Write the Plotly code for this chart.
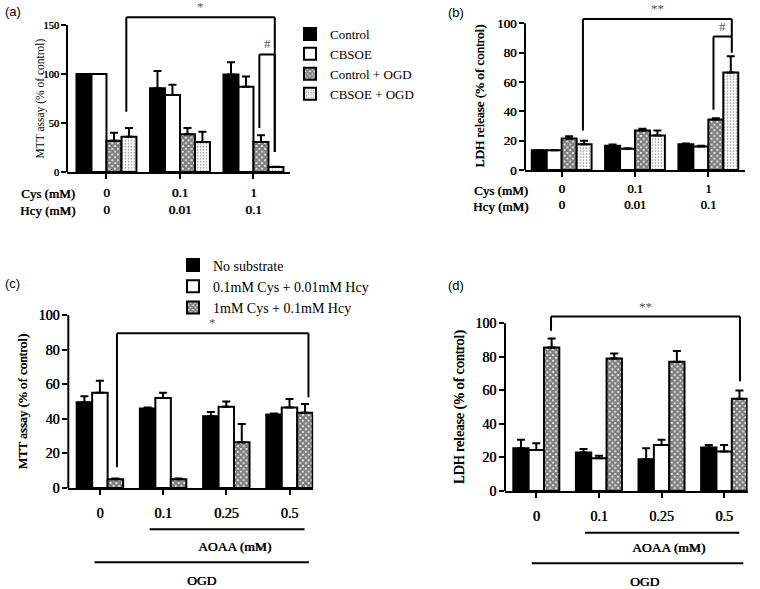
import plotly.graph_objects as go

W, H = 760, 589
SERIF = "Liberation Serif"
SANS = "Liberation Sans"
BOLD = "0.6px 0px 0px black"   # thickens the serif glyphs (bold face)

# ---------------- data ----------------
# Panel (a): MTT assay (% of control)
A_CATS = [0, 1, 2]
A_CYS = ["0", "0.1", "1"]
A_HCY = ["0", "0.01", "0.1"]
A_SERIES = ["Control", "CBSOE", "Control + OGD", "CBSOE + OGD"]
A_CONTROL = [100, 85.5, 99.5]
A_CONTROL_ERR = [0, 17.5, 12.5]
A_CBSOE = [100, 78.5, 87]
A_CBSOE_ERR = [0, 10.5, 10.5]
A_CONTROL_OGD = [32, 38.5, 30.5]
A_CONTROL_OGD_ERR = [8, 6.5, 7]
A_CBSOE_OGD = [36, 30.5, 5]
A_CBSOE_OGD_ERR = [9, 10.5, 0.3]
A_YTICKS = [0, 50, 100, 150]
# brackets: x_left, x_right, y_top, y_left_end, y_right_end, label
A_BRACKETS = [(0.27, 2.29, 158, 61.5, 20.5, "*"), (2.08, 2.29, 120, 45, 20.5, "#")]

# Panel (b): LDH release (% of control)
B_CONTROL = [13.5, 16.5, 17.5]
B_CONTROL_ERR = [0, 0.8, 0.6]
B_CBSOE = [13.5, 14.5, 16]
B_CBSOE_ERR = [0, 0.3, 0.6]
B_CONTROL_OGD = [21.5, 27, 34.5]
B_CONTROL_OGD_ERR = [1.5, 1.2, 0.8]
B_CBSOE_OGD = [17.5, 23.5, 66.5]
B_CBSOE_OGD_ERR = [2.5, 3.5, 11]
B_YTICKS = [0, 20, 40, 60, 80, 100]
B_BRACKETS = [(0.29, 2.32, 103, 27, 91, "**"), (2.07, 2.32, 91, 41, 80, "#")]

# Panel (c): MTT assay under OGD with AOAA
C_CATS = [0, 1, 2, 3]
C_AOAA = ["0", "0.1", "0.25", "0.5"]
C_SERIES = ["No substrate", "0.1mM Cys + 0.01mM Hcy", "1mM Cys + 0.1mM Hcy"]
C_NOSUB = [49.5, 46, 41.5, 42.5]
C_NOSUB_ERR = [3.5, 0.5, 2.5, 0.5]
C_LOW = [55, 52, 47, 46.5]
C_LOW_ERR = [7, 3, 3, 5]
C_HIGH = [5, 5, 26.5, 43.5]
C_HIGH_ERR = [0.5, 0.5, 10.5, 5]
C_YTICKS = [0, 20, 40, 60, 80, 100]
C_BRACKETS = [(0.27, 3.30, 89.5, 12, 52.5, "*")]

# Panel (d): LDH release under OGD with AOAA
D_NOSUB = [25.5, 23, 19, 26]
D_NOSUB_ERR = [5, 2, 6.5, 1.5]
D_LOW = [24.5, 19.5, 27.5, 23.5]
D_LOW_ERR = [4, 1.5, 3, 4]
D_HIGH = [85.5, 79, 77, 55]
D_HIGH_ERR = [5.5, 3, 6.5, 5]
D_YTICKS = [0, 20, 40, 60, 80, 100]
D_BRACKETS = [(0.235, 3.253, 104, 95.5, 65.5, "**")]

# ---------------- styles ----------------
LINE = dict(color="black", width=2)
SOLID = dict(color="black", line=LINE)
WHITE = dict(color="white", line=LINE)
CHECK = dict(color="white", line=LINE,
             pattern=dict(shape="x", fgcolor="black", bgcolor="white", size=4, solidity=0.8))
DOTS = dict(color="white", line=LINE,
            pattern=dict(shape=".", fgcolor="#222222", bgcolor="white", size=3, solidity=0.25))

# panel geometry in pixels: x-left, x-right, y pixel of value 0, pixels per unit, top of range
GEOM = {
    1: dict(x0=67, x1=290, zero=172, ppu=0.98, top=165, xr=[-0.537, 2.497], bw=0.204),
    2: dict(x0=525, x1=745, zero=170, ppu=1.467, top=108, xr=[-0.5, 2.5], bw=0.204),
    3: dict(x0=68.3, x1=313.2, zero=488, ppu=1.73, top=101, xr=[-0.5, 3.375], bw=0.245),
    4: dict(x0=505, x1=747.6, zero=491, ppu=1.677, top=108, xr=[-0.5, 3.375], bw=0.245),
}

fig = go.Figure()


def sfx(n):
    return "" if n == 1 else str(n)


def add_bars(n, cats, names, vals, errs, styles, legend, showlegend):
    bw = GEOM[n]["bw"]
    m = len(names)
    for k in range(m):
        fig.add_trace(go.Bar(
            x=cats, y=vals[k], name=names[k], width=bw, offset=(k - m / 2) * bw,
            xaxis="x" + sfx(n), yaxis="y" + sfx(n), marker=styles[k],
            error_y=dict(type="data", symmetric=False, array=errs[k], arrayminus=[0] * len(cats),
                         color="black", thickness=2, width=4),
            showlegend=showlegend, legend=legend, hoverinfo="skip"))


add_bars(1, A_CATS, A_SERIES, [A_CONTROL, A_CBSOE, A_CONTROL_OGD, A_CBSOE_OGD],
         [A_CONTROL_ERR, A_CBSOE_ERR, A_CONTROL_OGD_ERR, A_CBSOE_OGD_ERR],
         [SOLID, WHITE, CHECK, DOTS], "legend", True)
add_bars(2, A_CATS, A_SERIES, [B_CONTROL, B_CBSOE, B_CONTROL_OGD, B_CBSOE_OGD],
         [B_CONTROL_ERR, B_CBSOE_ERR, B_CONTROL_OGD_ERR, B_CBSOE_OGD_ERR],
         [SOLID, WHITE, CHECK, DOTS], "legend", False)
add_bars(3, C_CATS, C_SERIES, [C_NOSUB, C_LOW, C_HIGH], [C_NOSUB_ERR, C_LOW_ERR, C_HIGH_ERR],
         [SOLID, WHITE, CHECK], "legend2", True)
add_bars(4, C_CATS, C_SERIES, [D_NOSUB, D_LOW, D_HIGH], [D_NOSUB_ERR, D_LOW_ERR, D_HIGH_ERR],
         [SOLID, WHITE, CHECK], "legend2", False)


def py(p):
    return 1 - p / H


def bfont(size):
    return dict(family=SERIF, size=size, color="black", shadow=BOLD)


layout = dict(width=W, height=H, margin=dict(l=0, r=0, t=0, b=0, autoexpand=False),
              paper_bgcolor="white", plot_bgcolor="white", barmode="overlay",
              showlegend=True)

XTICKTEXT = {
    1: [c + "<br>" + h for c, h in zip(A_CYS, A_HCY)],
    2: [c + "<br>" + h for c, h in zip(A_CYS, A_HCY)],
    3: C_AOAA,
    4: C_AOAA,
}
XTICKVALS = {1: A_CATS, 2: A_CATS, 3: C_CATS, 4: C_CATS}
YTICKS = {1: A_YTICKS, 2: B_YTICKS, 3: C_YTICKS, 4: D_YTICKS}
YTICKSIZE = {1: 10.5, 2: 13, 3: 14, 4: 14}
XTICKSIZE = {1: 13, 2: 12.5, 3: 14, 4: 14}
XSTAND = {1: 2, 2: 1, 3: 6, 4: 6}

shapes = []
annotations = []
for n, g in GEOM.items():
    s = sfx(n)
    top_px = g["zero"] - g["top"] * g["ppu"]
    layout["xaxis" + s] = dict(
        domain=[g["x0"] / W, g["x1"] / W], range=g["xr"], anchor="y" + s,
        showline=True, linecolor="black", linewidth=2, ticks="outside", ticklen=5,
        tickwidth=2, tickcolor="black", tickvals=XTICKVALS[n], ticktext=XTICKTEXT[n],
        tickfont=bfont(XTICKSIZE[n]), automargin=False,
        ticklabelstandoff=XSTAND[n], showgrid=False, zeroline=False)
    layout["yaxis" + s] = dict(
        domain=[py(g["zero"]), py(top_px)], range=[0, g["top"]], anchor="x" + s,
        showline=False, ticks="outside", ticklen=5, tickwidth=2, tickcolor="black",
        tickvals=YTICKS[n], tickfont=bfont(YTICKSIZE[n]), automargin=False,
        showgrid=False, zeroline=False)
    # y axis line from 0 to top tick
    shapes.append(dict(type="line", xref="x" + s + " domain", yref="y" + s, x0=0, x1=0,
                       y0=0, y1=YTICKS[n][-1], line=dict(color="black", width=2)))

BRACKETS = {1: A_BRACKETS, 2: B_BRACKETS, 3: C_BRACKETS, 4: D_BRACKETS}
for n, blist in BRACKETS.items():
    s = sfx(n)
    for (xl, xr, yt, yl, yr, lab) in blist:
        for (xa, ya, xb, yb) in [(xl, yl, xl, yt), (xl, yt, xr, yt), (xr, yt, xr, yr)]:
            shapes.append(dict(type="line", xref="x" + s, yref="y" + s, x0=xa, y0=ya,
                               x1=xb, y1=yb, line=dict(color="black", width=2)))
        annotations.append(dict(text=lab, xref="x" + s, yref="y" + s, x=(xl + xr) / 2, y=yt,
                                xanchor="center", yanchor="bottom", yshift=1, showarrow=False,
                                font=dict(family=SERIF, size=13, color="#555555")))

# group bars for AOAA and OGD (panels c, d)
UNDER = {
    3: [(0.786, 3.239, 529.3, "AOAA (mM)", 2.13, 546.7), (-0.084, 3.307, 562.3, "OGD", 1.61, 580)],
    4: [(0.778, 3.243, 532.7, "AOAA (mM)", 2.11, 547.7), (-0.073, 3.307, 563.3, "OGD", 1.73, 581)],
}
for n, items in UNDER.items():
    s = sfx(n)
    for (xa, xb, ypx, lab, xt, ytp) in items:
        shapes.append(dict(type="line", xref="x" + s, yref="paper", x0=xa, x1=xb,
                           y0=py(ypx), y1=py(ypx), line=dict(color="black", width=2)))
        annotations.append(dict(text=lab, xref="x" + s, yref="paper", x=xt, y=py(ytp),
                                xanchor="center", yanchor="middle", showarrow=False,
                                font=bfont(13.5)))

# row labels for panels a, b
for (xr_px, y1, y2, size) in [(77, 193, 211, 13), (530, 190.7, 206.7, 13)]:
    for txt, ypx in [("Cys (mM)", y1), ("Hcy (mM)", y2)]:
        annotations.append(dict(text=txt, xref="paper", yref="paper", x=xr_px / W, y=py(ypx),
                                xanchor="right", yanchor="middle", showarrow=False,
                                font=bfont(size)))

# y-axis titles
YTITLES = [
    (1, "MTT assay (% of control)", 40, 11.5, False),
    (2, "LDH release (% of control)", 480, 13, True),
    (3, "MTT assay (% of control)", 22, 13, True),
    (4, "LDH release (% of control)", 460, 14, True),
]
for n, txt, xpx, size, bold in YTITLES:
    s = sfx(n)
    f = bfont(size) if bold else dict(family=SERIF, size=size, color="black")
    annotations.append(dict(text=txt, xref="paper", yref="y" + s, x=xpx / W,
                            y=YTICKS[n][-1] / 2, textangle=-90, xanchor="center",
                            yanchor="middle", showarrow=False, font=f))

# panel letters
for txt, xpx, ypx in [("(a)", 3, 12), ("(b)", 446, 13), ("(c)", 3, 283), ("(d)", 446, 285)]:
    annotations.append(dict(text=txt, xref="paper", yref="paper", x=xpx / W, y=py(ypx),
                            xanchor="left", yanchor="middle", showarrow=False,
                            font=dict(family=SANS, size=13, color="black")))

layout["shapes"] = shapes
layout["annotations"] = annotations
layout["legend"] = dict(x=290 / W, y=py(19), xanchor="left", yanchor="top",
                        font=dict(family=SERIF, size=13, color="black"),
                        bgcolor="rgba(0,0,0,0)", itemwidth=30, tracegroupgap=0,
                        traceorder="normal")
layout["legend2"] = dict(x=173 / W, y=py(249.5), xanchor="left", yanchor="top",
                         font=dict(family=SERIF, size=14, color="black"),
                         bgcolor="rgba(0,0,0,0)", itemwidth=30, tracegroupgap=0,
                         traceorder="normal")

fig.update_layout(**layout)
# place the figure at the page's top-left corner (no default body margin), no modebar
fig.write_html("out.html", config={"displayModeBar": False},
               post_script="document.body.style.margin='0px';")
